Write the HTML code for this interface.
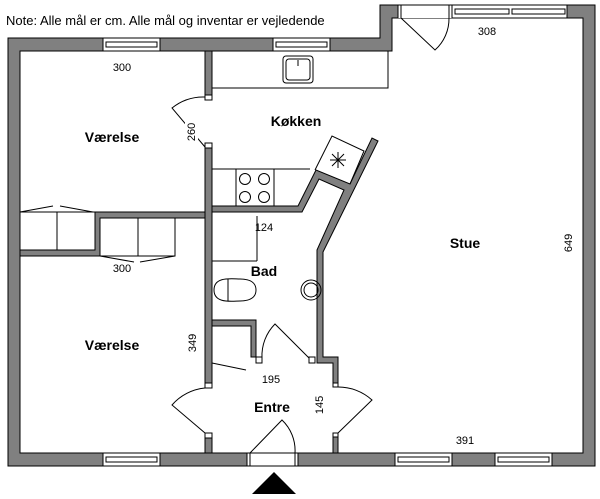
<!DOCTYPE html>
<html><head><meta charset="utf-8"><style>
html,body{margin:0;padding:0;background:#fff;}
svg{display:block;}
text{font-family:"Liberation Sans",sans-serif;fill:#000;}
.b{font-weight:bold;font-size:14px;}
.n{font-size:11px;}
</style></head><body>
<svg width="600" height="499" viewBox="0 0 600 499" xmlns="http://www.w3.org/2000/svg">
<text x="6" y="25" style="font-size:13px">Note: Alle mål er cm. Alle mål og inventar er vejledende</text>
<path d="M8,38 H380 V5 H595 V466 H8 Z M20,51 V453 H583 V18 H392 V51 Z" fill="#808080" stroke="#000" stroke-width="1" fill-rule="evenodd"/>
<g fill="#fff" stroke="#000" stroke-width="1">
<rect x="103" y="38" width="57" height="13"/><rect x="106" y="42" width="51" height="5"/>
<rect x="273" y="38" width="57" height="13"/><rect x="276" y="42" width="51" height="5"/>
<rect x="452" y="5" width="115" height="13"/><rect x="455" y="9" width="54" height="5"/><rect x="512" y="9" width="53" height="5"/>
<rect x="398" y="5" width="54" height="13" stroke="none"/><line x1="398" y1="5" x2="398" y2="18"/><line x1="401" y1="5" x2="401" y2="18"/><line x1="449" y1="5" x2="449" y2="18"/><line x1="452" y1="5" x2="452" y2="18"/><line x1="398" y1="5" x2="452" y2="5"/>
<rect x="103" y="453" width="57" height="13"/><rect x="106" y="457" width="51" height="5"/>
<rect x="395" y="453" width="57" height="13"/><rect x="398" y="457" width="51" height="5"/>
<rect x="495" y="453" width="57" height="13"/><rect x="498" y="457" width="51" height="5"/>
<rect x="247" y="453" width="51" height="13"/><line x1="250" y1="453" x2="250" y2="466"/><line x1="295" y1="453" x2="295" y2="466"/>
</g>
<g fill="#808080" stroke="#000" stroke-width="1">
<rect x="205" y="51" width="7" height="46"/>
<rect x="205" y="147" width="7" height="241"/>
<rect x="205" y="437" width="7" height="16"/>
<path d="M20,250 H95 V212 H205 V218 H100 V256 H20 Z"/>
<path d="M212,206 H298 L316,170 L350,184 L372,138 L378,141 L323,252 V357 H338 V383 H333 V363 H317 V250 L344,190 L319,179 L302,212 H212 Z"/>
<path d="M212,320 H256 V357 H251 V326 H212 Z"/>
<rect x="333" y="437" width="5" height="16"/>
</g>
<g fill="#fff" stroke="#000" stroke-width="1">
<rect x="205" y="95" width="7" height="5"/><rect x="205" y="143" width="7" height="5"/>
<rect x="205" y="383" width="7" height="5"/><rect x="205" y="433" width="7" height="5"/>
<rect x="256" y="357" width="6" height="6"/><rect x="309" y="357" width="6" height="6"/>
<rect x="333" y="383" width="5" height="4"/><rect x="333" y="433" width="5" height="4"/>
</g>
<g fill="none" stroke="#000" stroke-width="1">
<rect x="212" y="51" width="176" height="37"/>
<rect x="283" y="56" width="30" height="27" rx="3"/><rect x="286" y="59" width="24" height="21" rx="3"/>
<line x1="298" y1="60" x2="298" y2="66"/>
<path d="M212,169 H310"/>
<rect x="236" y="169" width="38" height="37"/>
<circle cx="245" cy="179" r="5.5"/><circle cx="264" cy="179" r="5.5"/><circle cx="245" cy="197" r="5.5"/><circle cx="264" cy="197" r="5.5"/>
<path d="M315,170 L332,136 L364,151 L350,184"/>
<path d="M332,154 L344,166 M344,154 L332,166 M338,152 V168 M330,160 H346"/>
<rect x="20" y="212" width="75" height="38"/><line x1="57" y1="212" x2="57" y2="250"/>
<path d="M20,212 L53,206 M60,206 L93,212"/>
<rect x="100" y="218" width="75" height="38"/><line x1="138" y1="218" x2="138" y2="256"/>
<path d="M100,256 L134,262 M140,262 L175,256"/>
<line x1="257" y1="216" x2="257" y2="261"/><line x1="212" y1="261" x2="257" y2="261"/>
<path d="M214,290 C214,276 232,279 240,279 C252,279 256,284 256,290 C256,296 252,301 240,301 C232,301 214,304 214,290 Z"/>
<line x1="228" y1="279" x2="228" y2="301"/>
<circle cx="311" cy="290" r="10"/><circle cx="311" cy="290" r="7"/>
<line x1="212" y1="363" x2="246" y2="370"/>
<path d="M205,97 A50,50 0 0 0 172,108 L205,147"/>
<path d="M205,388 A50,50 0 0 0 172,405 L205,433"/>
<path d="M338,387 A50,50 0 0 1 372,400 L338,433"/>
<path d="M262,358 A45,45 0 0 1 275,324 L309,358"/>
<path d="M250,453 L282,420 A42,42 0 0 1 295,453"/>
<path d="M401,18 L435,50 A42,42 0 0 0 449,18"/>
</g>
<rect x="185" y="118" width="13" height="28" fill="#fff"/>
<polygon points="252,494 296,494 274,472" fill="#000"/>
<text class="b" x="112" y="142" text-anchor="middle">Værelse</text>
<text class="b" x="296" y="126" text-anchor="middle">Køkken</text>
<text class="b" x="465" y="248" text-anchor="middle">Stue</text>
<text class="b" x="264" y="276" text-anchor="middle">Bad</text>
<text class="b" x="112" y="350" text-anchor="middle">Værelse</text>
<text class="b" x="272" y="412" text-anchor="middle">Entre</text>
<text class="n" x="122" y="71" text-anchor="middle">300</text>
<text class="n" x="264" y="231" text-anchor="middle">124</text>
<text class="n" x="122" y="272" text-anchor="middle">300</text>
<text class="n" x="271" y="383" text-anchor="middle">195</text>
<text class="n" x="487" y="35" text-anchor="middle">308</text>
<text class="n" x="465" y="444" text-anchor="middle">391</text>
<text class="n" transform="translate(195,132) rotate(-90)" text-anchor="middle">260</text>
<text class="n" transform="translate(196,343) rotate(-90)" text-anchor="middle">349</text>
<text class="n" transform="translate(323,405) rotate(-90)" text-anchor="middle">145</text>
<text class="n" transform="translate(572,243) rotate(-90)" text-anchor="middle">649</text>
</svg>
</body></html>
